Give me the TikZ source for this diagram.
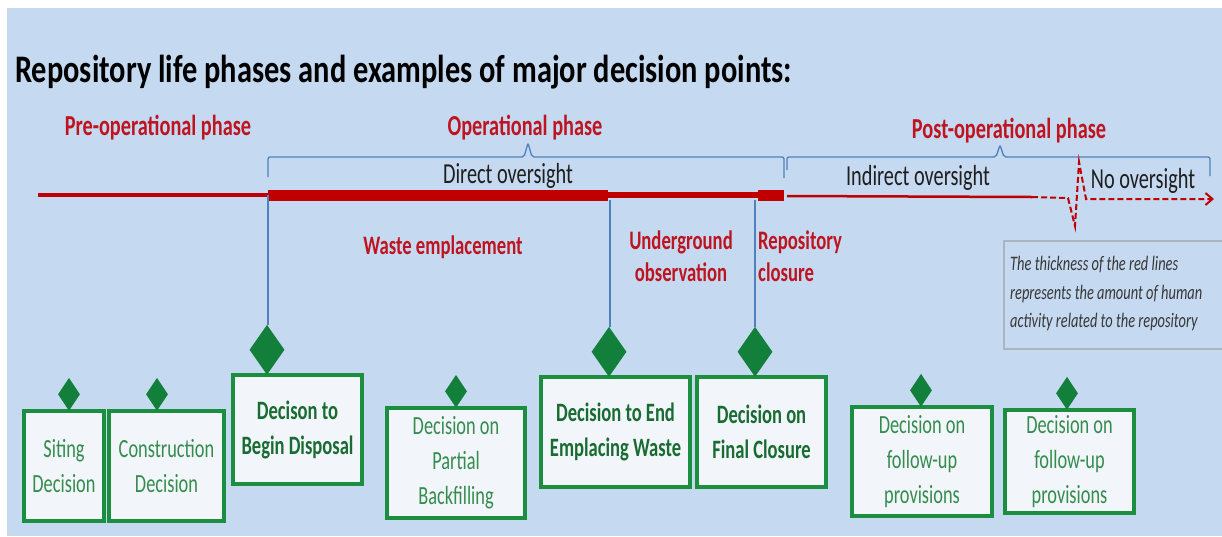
\documentclass[tikz,border=0pt]{standalone}
\usepackage{fontspec}
\setmainfont{Carlito}[FakeStretch=0.70]
\newfontfamily\titlefont{Carlito}[FakeStretch=0.78]
\usetikzlibrary{shapes.geometric,arrows.meta}

\definecolor{bgblue}{RGB}{197,217,240}
\definecolor{tlred}{RGB}{192,0,0}
\definecolor{phasered}{RGB}{190,20,32}
\definecolor{linkblue}{RGB}{79,129,189}
\definecolor{gborder}{RGB}{28,142,64}
\definecolor{gdia}{RGB}{18,128,58}
\definecolor{gtext}{RGB}{52,140,78}
\definecolor{gtextb}{RGB}{24,108,50}
\definecolor{boxfill}{RGB}{242,245,249}
\definecolor{notegrey}{RGB}{172,180,190}
\definecolor{notetext}{RGB}{55,55,55}
\definecolor{inktext}{RGB}{30,30,30}

\begin{document}
\begin{tikzpicture}[x=1pt,y=-1pt,
  phase/.style={text=phasered, font=\fontsize{29}{31}\selectfont\bfseries, inner sep=0},
  stage/.style={text=phasered, font=\fontsize{26.7}{32}\selectfont\bfseries, inner sep=0},
  watch/.style={text=inktext, font=\fontsize{29}{31}\selectfont, inner sep=0},
  dbox/.style={draw=gborder, line width=3.5pt, fill=boxfill, inner sep=0, align=center,
    text=gtext, font=\fontsize{26.2}{35}\selectfont},
  dboxb/.style={dbox, text=gtextb, font=\fontsize{26.5}{35}\selectfont\bfseries},
  smalldia/.style={diamond, fill=gdia, inner sep=0, minimum width=22pt, minimum height=33pt, anchor=south},
  bigdia/.style={diamond, fill=gdia, inner sep=0, minimum width=35pt, minimum height=50pt, anchor=south},
  conn/.style={draw=linkblue, line width=1.3pt},
  brace/.style={draw=linkblue, line width=1.3pt, rounded corners=2pt},
  tl/.style={draw=tlred},
]
\useasboundingbox (0,0) rectangle (1222,536);
\fill[white] (0,0) rectangle (1222,536);
\fill[bgblue] (7,8) rectangle (1222,536);

% title
\node[anchor=base west, inner sep=0, text=black, font=\titlefont\fontsize{39}{42}\selectfont\bfseries]
  (title) at (15,82) {Repository life phases and examples of major decision points:};

% phase headings
\node[phase] (pre)  at (158,128) {Pre-operational phase};
\node[phase] (op)   at (525,128) {Operational phase};
\node[phase] (post) at (1009,131) {Post-operational phase};

% oversight braces
\draw[brace] (268,177) -- (268,157) -- (524,157) -- (528,143) -- (532,157) -- (784,157) -- (784,178);
\draw[brace] (787,170) -- (787,157) -- (996,157) -- (1000,145) -- (1004,157) -- (1210,157) -- (1210,176);

\node[watch] (direct)   at (508,176) {Direct oversight};
\node[watch] (indirect) at (918,178) {Indirect oversight};
\node[watch] (none)     at (1143,181) {No oversight};

% timeline, line width follows the level of activity
\coordinate (t0) at (38,195);
\coordinate (t1) at (268,195);
\coordinate (t2) at (608,195);
\coordinate (t3) at (758,195);
\coordinate (t4) at (784,195);
\coordinate (t5) at (787,196);
\coordinate (t6) at (1032,197);
\coordinate (z0) at (1068,198);
\coordinate (z1) at (1075,226);
\coordinate (z2) at (1079,162);
\coordinate (z3) at (1086,199);
\coordinate (t7) at (1214,199);
\draw[tl, line width=4pt]  (t0) -- (t1);
\draw[tl, line width=11pt] (t1) -- (t2);
\draw[tl, line width=6pt]  (t2) -- (t3);
\draw[tl, line width=11pt] (t3) -- (t4);
\draw[tl, line width=2.5pt] (t5) -- (t6);
\draw[tl, line width=2pt, dash pattern=on 6pt off 3pt, -{Straight Barb[length=7pt,width=12pt]}]
  (t6) -- (z0) -- (z1) -- (z2) -- (z3) -- (t7);

% activity labels
\node[stage] (waste) at (443,247) {Waste emplacement};
\node[stage, align=center] (under) at (681,256) {Underground\\observation};
\node[stage, align=left, anchor=west] (closure) at (758,256) {Repository\\closure};

% explanatory note
\node[draw=notegrey, line width=1.5pt, fill=bgblue, minimum width=224pt, minimum height=108pt,
  anchor=north west, inner sep=0] (notebox) at (1003,240) {};
\node[anchor=west, inner sep=0, align=left, text=notetext,
  font=\fontsize{20.6}{28.5}\selectfont\itshape] (note) at (1010,294)
  {The thickness of the red lines\\represents the amount of human\\activity related to the repository};

% decision boxes
\node[dbox,  minimum width=80pt,  minimum height=110pt] (siting)   at (64,466)    {Siting\\Decision};
\node[dbox,  minimum width=115pt, minimum height=110pt] (constr)   at (166.5,466) {Construction\\Decision};
\node[dboxb, minimum width=129pt, minimum height=109pt] (begin)    at (297.5,429.5) {Decison to\\Begin Disposal};
\node[dbox,  minimum width=138pt, minimum height=110pt] (backfill) at (456,463)   {Decision on\\Partial\\Backfilling};
\node[dboxb, minimum width=149pt, minimum height=110pt] (endemp)   at (615.5,432) {Decision to End\\Emplacing Waste};
\node[dboxb, minimum width=129pt, minimum height=110pt] (final)    at (761.5,432) {Decision on\\Final Closure};
\node[dbox,  minimum width=140pt, minimum height=109pt] (follow1)  at (922,461.5) {Decision on\\follow-up\\provisions};
\node[dbox,  minimum width=129pt, minimum height=103pt] (follow2)  at (1069.5,461.5) {Decision on\\follow-up\\provisions};

% decision points
\node[smalldia] (d1) at (69,411) {};
\node[smalldia] (d2) at (157,411) {};
\node[bigdia]   (d3) at (267,375) {};
\node[smalldia] (d4) at (456,408) {};
\node[bigdia]   (d5) at (609,377) {};
\node[bigdia]   (d6) at (755,377) {};
\node[smalldia] (d7) at (921,407) {};
\node[smalldia] (d8) at (1067,410) {};

% links from the timeline to the decision points
\draw[conn] (t1) -- (t1 |- d3.north);
\draw[conn] (610,200) -- (610,200 |- d5.north);
\coordinate (c6) at (755,200);
\draw[conn] (c6) -- (c6 |- d6.north);
\end{tikzpicture}
\end{document}
